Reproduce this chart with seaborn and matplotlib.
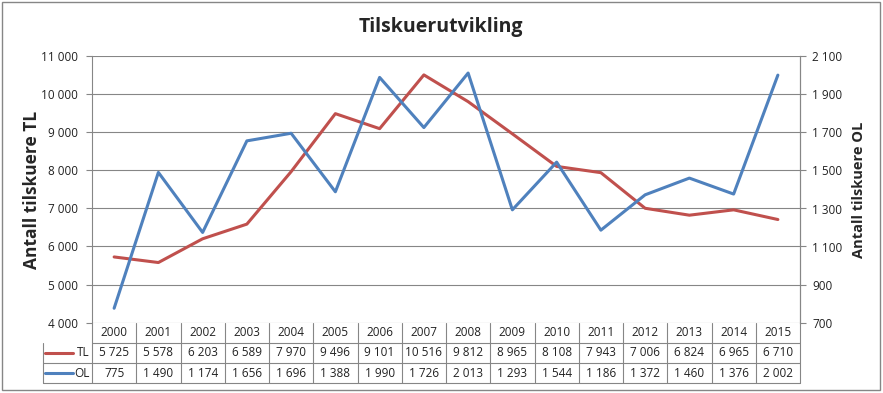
import matplotlib
matplotlib.use("Agg")
import matplotlib.pyplot as plt
from matplotlib.lines import Line2D
from matplotlib.patches import Rectangle
import seaborn as sns
import pandas as pd
import numpy as np

years = [2000, 2001, 2002, 2003, 2004, 2005, 2006, 2007, 2008, 2009, 2010, 2011, 2012, 2013, 2014, 2015]
tl = [5725, 5578, 6203, 6589, 7970, 9496, 9101, 10516, 9812, 8965, 8108, 7943, 7006, 6824, 6965, 6710]
ol = [775, 1490, 1174, 1656, 1696, 1388, 1990, 1726, 2013, 1293, 1544, 1186, 1372, 1460, 1376, 2002]
left_ticks = [4000, 5000, 6000, 7000, 8000, 9000, 10000, 11000]
right_ticks = [700, 900, 1100, 1300, 1500, 1700, 1900, 2100]

RED = "#C0504D"
BLUE = "#4F81BD"
GRID = "#868686"

sns.set_theme(style="white")
plt.rcParams['font.family'] = ['Open Sans', 'DejaVu Sans']

W, H = 883, 393
fig = plt.figure(figsize=(W / 100, H / 100), dpi=100)
L, R, T, B = 92, 800, 56.5, 322.5
ax = fig.add_axes([L / W, 1 - B / H, (R - L) / W, (B - T) / H])

df = pd.DataFrame({"pos": np.arange(len(years)), "TL": tl, "OL": ol})

ax.set_xlim(-0.5, len(years) - 0.5)
ax.set_ylim(4000, 11000)
ax.set_yticks(left_ticks)
ax.yaxis.grid(True, color=GRID, linewidth=0.8)
ax.set_axisbelow(True)
fmt = lambda v: f"{v:,}".replace(",", " ")
ax.set_yticklabels([fmt(v) for v in left_ticks], fontsize=8.5, color="#222222")
ax.set_xticks([])
ax.set_ylabel("Antall tilskuere TL", fontsize=12.5, fontweight="bold", labelpad=0)
for s in ["top", "bottom"]:
    ax.spines[s].set_visible(False)
for s in ["left", "right"]:
    ax.spines[s].set_color(GRID)
    ax.spines[s].set_linewidth(0.8)
ax.tick_params(axis="y", length=4, color=GRID, width=0.8, pad=6, left=True)

ax2 = ax.twinx()
ax2.set_ylim(700, 2100)
ax2.set_yticks(right_ticks)
ax2.set_yticklabels([fmt(v) for v in right_ticks], fontsize=8.5, color="#222222")
ax2.tick_params(axis="y", length=4, color=GRID, width=0.8, pad=5, right=True)
for s in ["top", "bottom", "left"]:
    ax2.spines[s].set_visible(False)
ax2.spines["right"].set_color(GRID)
ax2.spines["right"].set_linewidth(0.8)
ax2.set_ylabel("Antall tilskuere OL", fontsize=10.5, fontweight="bold", labelpad=7)

sns.lineplot(data=df, x="pos", y="TL", ax=ax, color=RED, linewidth=2.2)
sns.lineplot(data=df, x="pos", y="OL", ax=ax2, color=BLUE, linewidth=2.2)
ax.set_xlabel("")
ax2.set_xlabel("")
ax.set_xticks([])

# data table
rh = 20.3 / (B - T)
n = len(years)
tr = ax.transAxes
lkw = dict(color=GRID, linewidth=0.8, transform=tr, clip_on=False)
legx0 = (43 - L) / (R - L)
ax.add_line(Line2D([0, 1], [-rh, -rh], **lkw))
for k in (2, 3):
    ax.add_line(Line2D([legx0, 1], [-k * rh, -k * rh], **lkw))
for i in range(n + 1):
    ax.add_line(Line2D([i / n, i / n], [0, -3 * rh], **lkw))
ax.add_line(Line2D([legx0, legx0], [-rh, -3 * rh], **lkw))

tkw = dict(transform=tr, ha="center", va="center", fontsize=8.5, color="#222222", clip_on=False)
for i in range(n):
    cx = (i + 0.5) / n
    ax.text(cx, -0.5 * rh, str(years[i]), **tkw)
    ax.text(cx, -1.5 * rh, fmt(tl[i]), **tkw)
    ax.text(cx, -2.5 * rh, fmt(ol[i]), **tkw)

for k, (name, col) in enumerate([("TL", RED), ("OL", BLUE)]):
    yy = -(1.5 + k) * rh
    ax.add_line(Line2D([(45 - L) / (R - L), (73 - L) / (R - L)], [yy, yy], color=col,
                       linewidth=2.2, transform=tr, clip_on=False))
    ax.text((90 - L) / (R - L), yy, name, transform=tr, ha="right", va="center",
            fontsize=8.5, color="#222222", clip_on=False)

fig.text(441 / W, 1 - 27 / H, "Tilskuerutvikling", ha="center", va="center",
         fontsize=14, fontweight="bold")

fig.add_artist(Rectangle((1.5 / W, 1 - 389.5 / H), 878 / W, 388 / H, transform=fig.transFigure,
                         fill=False, edgecolor=GRID, linewidth=1))

fig.savefig("out.png", dpi=100)
